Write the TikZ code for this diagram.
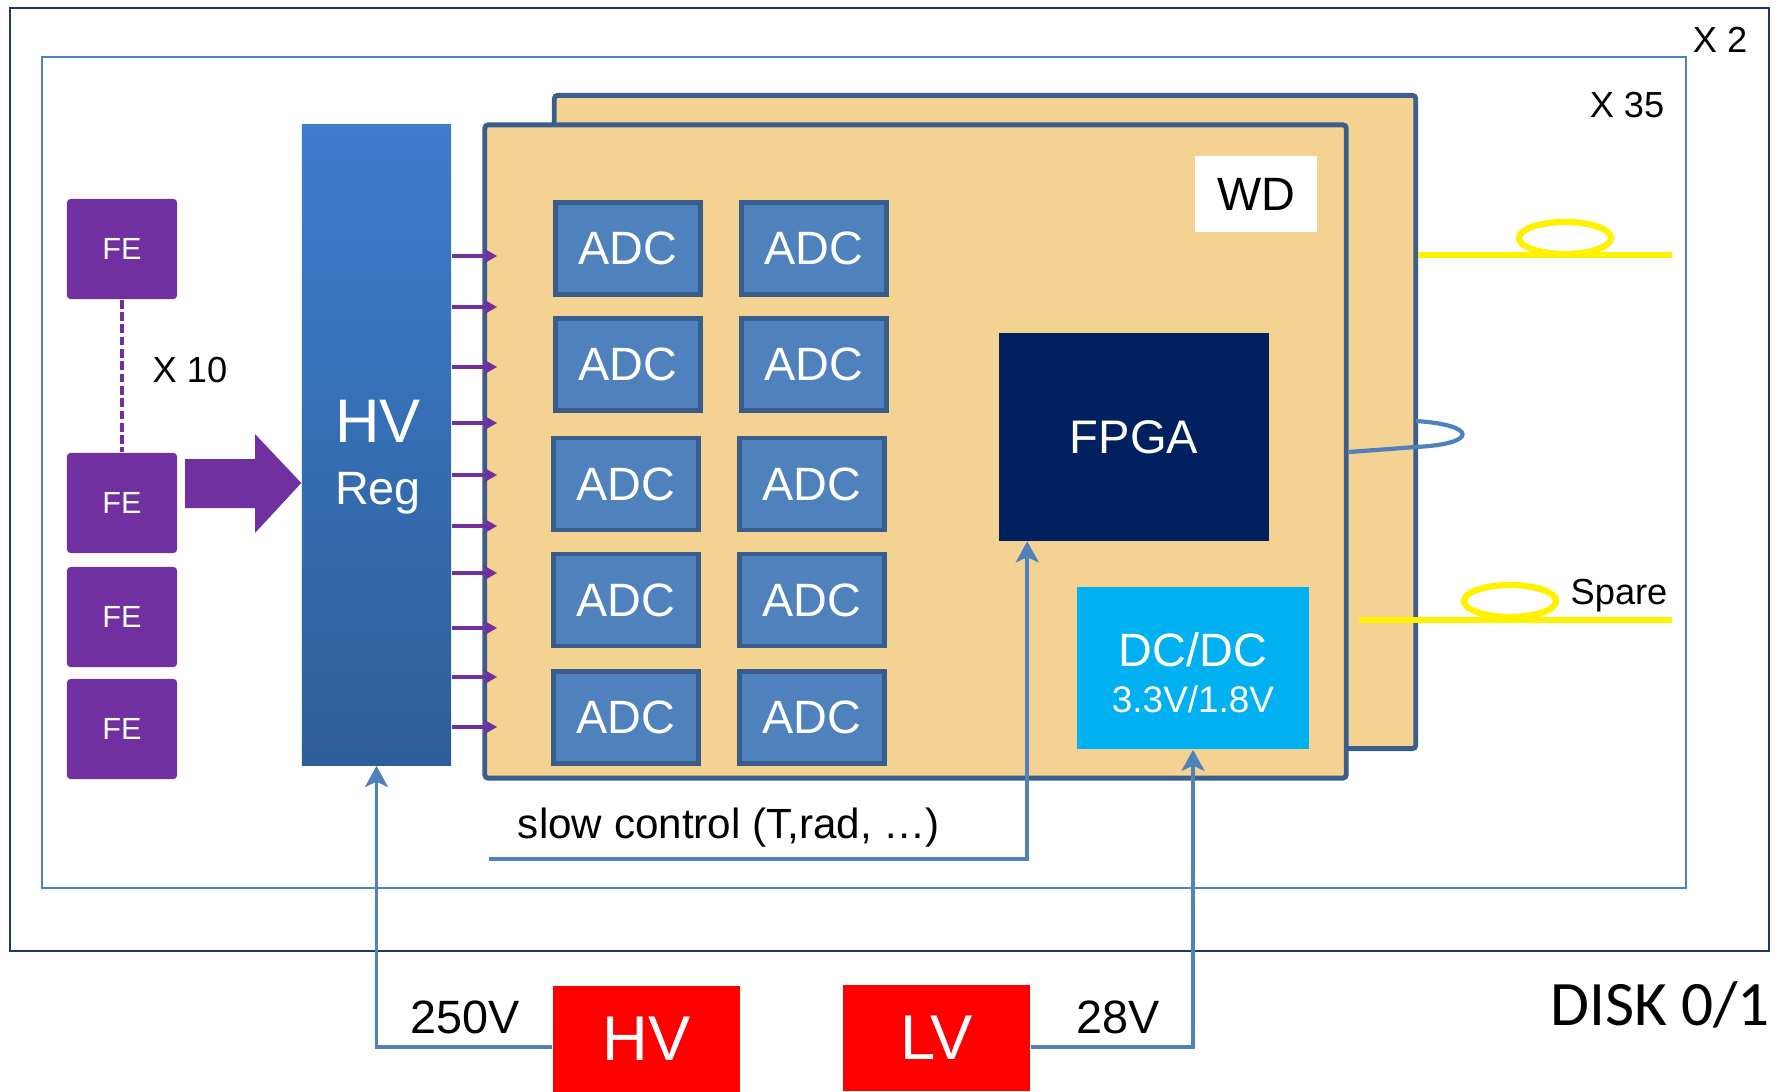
\documentclass[tikz,border=0pt]{standalone}
\usepackage{fontspec}
\setmainfont{Liberation Sans}
\newfontfamily\diskfont{Carlito}
\usetikzlibrary{arrows.meta, positioning, calc}

\definecolor{fepurple}{HTML}{7030A0}
\definecolor{adcblue}{HTML}{4F81BD}
\definecolor{adcedge}{HTML}{385D8A}
\definecolor{boardfill}{HTML}{F4D292}
\definecolor{boardedge}{HTML}{3B5E8C}
\definecolor{fpganavy}{HTML}{002060}
\definecolor{dccyan}{HTML}{00B0F0}
\definecolor{framenavy}{HTML}{1F3864}
\definecolor{hvtop}{HTML}{3D7DCC}
\definecolor{hvbot}{HTML}{2E5E9A}

\tikzset{
  fe/.style={fill=fepurple, text=white, minimum width=1.10cm, minimum height=1.0cm, rounded corners=1pt, font=\fontsize{8.7}{10}\selectfont},
  adc/.style={fill=adcblue, draw=adcedge, line width=1.4pt, text=white, minimum width=1.45cm, minimum height=0.92cm, font=\fontsize{13.3}{15}\selectfont},
  board/.style={fill=boardfill, draw=boardedge, line width=1.4pt, rounded corners=1pt, minimum width=8.61cm, minimum height=6.53cm},
  sig/.style={draw=adcblue, line width=1.1pt, -{Stealth[length=6pt,width=6.5pt,inset=1.5pt]}},
  hvtick/.style={draw=fepurple, line width=0.9pt, -{Stealth[length=4pt,width=4.5pt]}},
  fiber/.style={draw=yellow, line width=1.8pt},
  txt/.style={anchor=base, font=\fontsize{10.3}{12}\selectfont},
  supply/.style={fill=red, text=white, minimum width=1.87cm, minimum height=1.05cm, font=\fontsize{18}{20}\selectfont},
}

\begin{document}
\begin{tikzpicture}[x=0.01cm, y=-0.01cm]
\useasboundingbox (0,0) rectangle (1783,1091);
\draw[framenavy, line width=0.7pt] (10,8) rectangle (1769,951);
\draw[adcblue, line width=0.6pt] (42,57) rectangle (1686,888);
\node[txt] (xtwo) at (1720,53) {X 2};
\node[txt] (xtf) at (1627,118) {X 35};

\node[fe] (fe1) at (122,249) {FE};
\node[fe] (fe2) at (122,503) {FE};
\node[fe] (fe3) at (122,617) {FE};
\node[fe] (fe4) at (122,729) {FE};
\draw[fepurple, line width=1pt, dash pattern=on 2.5pt off 1pt] (fe1) -- (fe2);
\node[txt] (xten) at (190,382) {X 10};

\node[top color=hvtop, bottom color=hvbot, minimum width=1.49cm, minimum height=6.40cm] (hvreg) at (376.5,445) {};
\node[anchor=base, text=white, font=\fontsize{17.5}{20}\selectfont] (hvlbl) at (378,442) {HV};
\node[anchor=base, text=white, font=\fontsize{13.3}{15}\selectfont] (reglbl) at (378,504) {Reg};
\fill[fepurple] (185,459) -- (255,459) -- (255,434) -- (hvreg.west |- 0,483) -- (255,533) -- (255,508) -- (185,508) -- cycle;

\node[board] (back) at (985,422) {};
\draw[fiber] (back.east |- 0,255) -- (1672,255);
\draw[fiber] (1565,238) ellipse [x radius=0.46cm, y radius=0.16cm];
\draw[fiber] (1359,620) -- (1672,620);
\draw[fiber] (1510,601) ellipse [x radius=0.46cm, y radius=0.16cm];
\node[txt] (spare) at (1619,604) {Spare};

\node[board] (front) at (915.5,451.5) {};
\draw[adcblue, line width=1.2pt] (front.east |- 0,452) -- (1416,447) .. controls (1478,444) and (1478,425) .. (1416,421);
\node[fill=white, minimum width=1.22cm, minimum height=0.76cm, font=\fontsize{13.3}{15}\selectfont] (wd) at (1256,194) {WD};

\foreach \y in {256,307,367,423,475,526,573,628,677,727}
  \draw[hvtick] (hvreg.east |- 0,\y) -- (497,\y);

\foreach \r/\y/\dx in {1/248.5/0,2/364.5/0,3/484/-2,4/600/-2,5/717.5/-2}
  \foreach \c/\x in {1/628,2/814}
    \node[adc] (adc\r\c) at (\x+\dx,\y) {ADC};

\node[fill=fpganavy, text=white, minimum width=2.70cm, minimum height=2.07cm, font=\fontsize{13.4}{15}\selectfont] (fpga) at (1134,437) {FPGA};
\node[fill=dccyan, minimum width=2.32cm, minimum height=1.62cm] (dcdc) at (1193,668) {};
\node[anchor=base, text=white, font=\fontsize{13.3}{15}\selectfont] (dctxt) at (1193,666) {DC/DC};
\node[anchor=base, text=white, font=\fontsize{10.5}{12}\selectfont] (dcvolt) at (1193,712) {3.3V/1.8V};

\coordinate (scstart) at (489,859);
\draw[sig] (scstart) -| ([xshift=0.29cm]fpga.south west);
\node[anchor=base, font=\fontsize{12}{14}\selectfont] (sctxt) at (729,838) {slow control (T,rad, …)};

\node[supply] (hvsup) at (646.5,1039) {HV};
\node[supply] (lvsup) at (936.5,1038) {LV};
\draw[sig] ([yshift=-0.08cm]hvsup.west) -| (hvreg.south);
\draw[sig] ([yshift=-0.09cm]lvsup.east) -| (dcdc.south);
\node[anchor=base, font=\fontsize{13.3}{15}\selectfont] (hvval) at (465,1033) {250V};
\node[anchor=base, font=\fontsize{13.3}{15}\selectfont] (lvval) at (1118,1033) {28V};
\node[anchor=base, font=\diskfont\fontsize{18}{20}\selectfont] (disk) at (1660,1025) {DISK 0/1};
\end{tikzpicture}
\end{document}
